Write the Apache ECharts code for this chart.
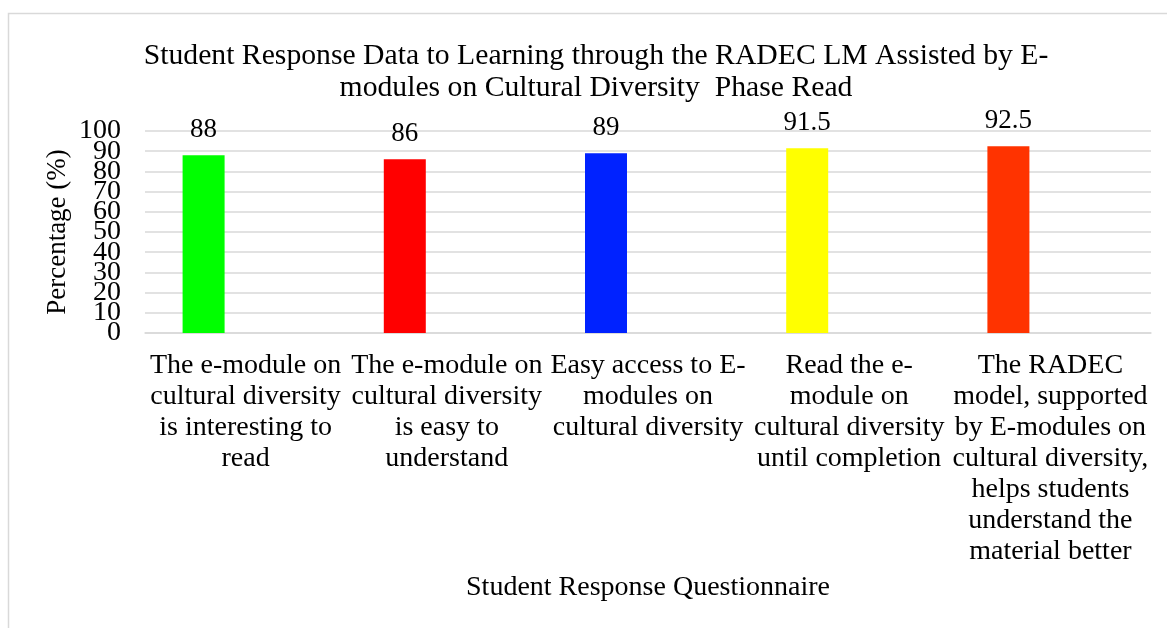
<!DOCTYPE html>
<html>
<head>
<meta charset="utf-8">
<script src="https://cdn.jsdelivr.net/npm/echarts@6/dist/echarts.min.js"></script>
<style>
  html, body { margin: 0; padding: 0; background: #fff; }
  #main { width: 1167px; height: 628px; }
</style>
</head>
<body>
<div id="main"></div>
<script>
// 数据
const categories = [
  'The e-module on\ncultural diversity\nis interesting to\nread',
  'The e-module on\ncultural diversity\nis easy to\nunderstand',
  'Easy access to E-\nmodules on\ncultural diversity',
  'Read the e-\nmodule on\ncultural diversity\nuntil completion',
  'The RADEC\nmodel, supported\nby E-modules on\ncultural diversity,\nhelps students\nunderstand the\nmaterial better'
];
const percentages = [88, 86, 89, 91.5, 92.5];
const barColors = ['#00ff00', '#ff0000', '#0022ff', '#ffff00', '#ff3300'];

const serif = 'Liberation Serif, Times New Roman, serif';
const yLabelStyle = { margin: 24, fontFamily: serif, fontSize: 28, color: '#000' };

const chart = echarts.init(document.getElementById('main'));

const option = {
  animation: false,
  title: {
    text: 'Student Response Data to Learning through the RADEC LM Assisted by E-\nmodules on Cultural Diversity  Phase Read',
    left: 591,
    top: 35,
    textAlign: 'center',
    textStyle: { fontFamily: serif, fontSize: 29.7, fontWeight: 'normal', color: '#000', lineHeight: 32 }
  },
  graphic: [{
    type: 'rect',
    shape: { x: 8.5, y: 13.5, width: 1200, height: 700 },
    style: { fill: 'none', stroke: '#d9d9d9', lineWidth: 1.5 },
    silent: true
  }],
  grid: { left: 145, right: 16, top: 131, bottom: 295 },
  xAxis: {
    type: 'category',
    data: categories,
    axisLine: { lineStyle: { color: '#d9d9d9', width: 1.5 } },
    axisTick: { show: false },
    axisLabel: {
      interval: 0, margin: 17,
      fontFamily: serif, fontSize: 28, color: '#000', lineHeight: 31, align: 'center'
    },
    name: 'Student Response Questionnaire',
    nameLocation: 'middle',
    nameGap: 255,
    nameTextStyle: { fontFamily: serif, fontSize: 28, color: '#000', verticalAlign: 'middle' }
  },
  yAxis: [
    {
      type: 'value',
      min: 0, max: 100, interval: 10,
      axisLine: { show: false },
      axisTick: { show: false },
      splitLine: { lineStyle: { color: '#d9d9d9', width: 1.5 } },
      // 0 和 100 由第二个轴显示，避免标签重叠被隐藏
      axisLabel: Object.assign({ showMinLabel: false, showMaxLabel: false }, yLabelStyle),
      name: 'Percentage (%)',
      nameLocation: 'middle',
      nameGap: 87,
      nameRotate: 90,
      nameTextStyle: { fontFamily: serif, fontSize: 27, color: '#000', verticalAlign: 'middle' }
    },
    {
      type: 'value',
      position: 'left',
      min: 0, max: 100, interval: 100,
      axisLine: { show: false },
      axisTick: { show: false },
      splitLine: { show: false },
      axisLabel: Object.assign({ showMinLabel: true, showMaxLabel: true }, yLabelStyle)
    }
  ],
  series: [
    {
      type: 'bar',
      barWidth: 42,
      barGap: '0%',
      data: percentages.map((v, i) => ({ value: v, itemStyle: { color: barColors[i] } })),
      label: {
        show: true, position: 'top', distance: 12,
        fontFamily: serif, fontSize: 27, color: '#000'
      }
    },
    { type: 'bar', barWidth: 42, barGap: '0%', data: percentages.map(() => null) },
    { type: 'bar', barWidth: 42, barGap: '0%', data: percentages.map(() => null) }
  ]
};

chart.setOption(option);
</script>
</body>
</html>
